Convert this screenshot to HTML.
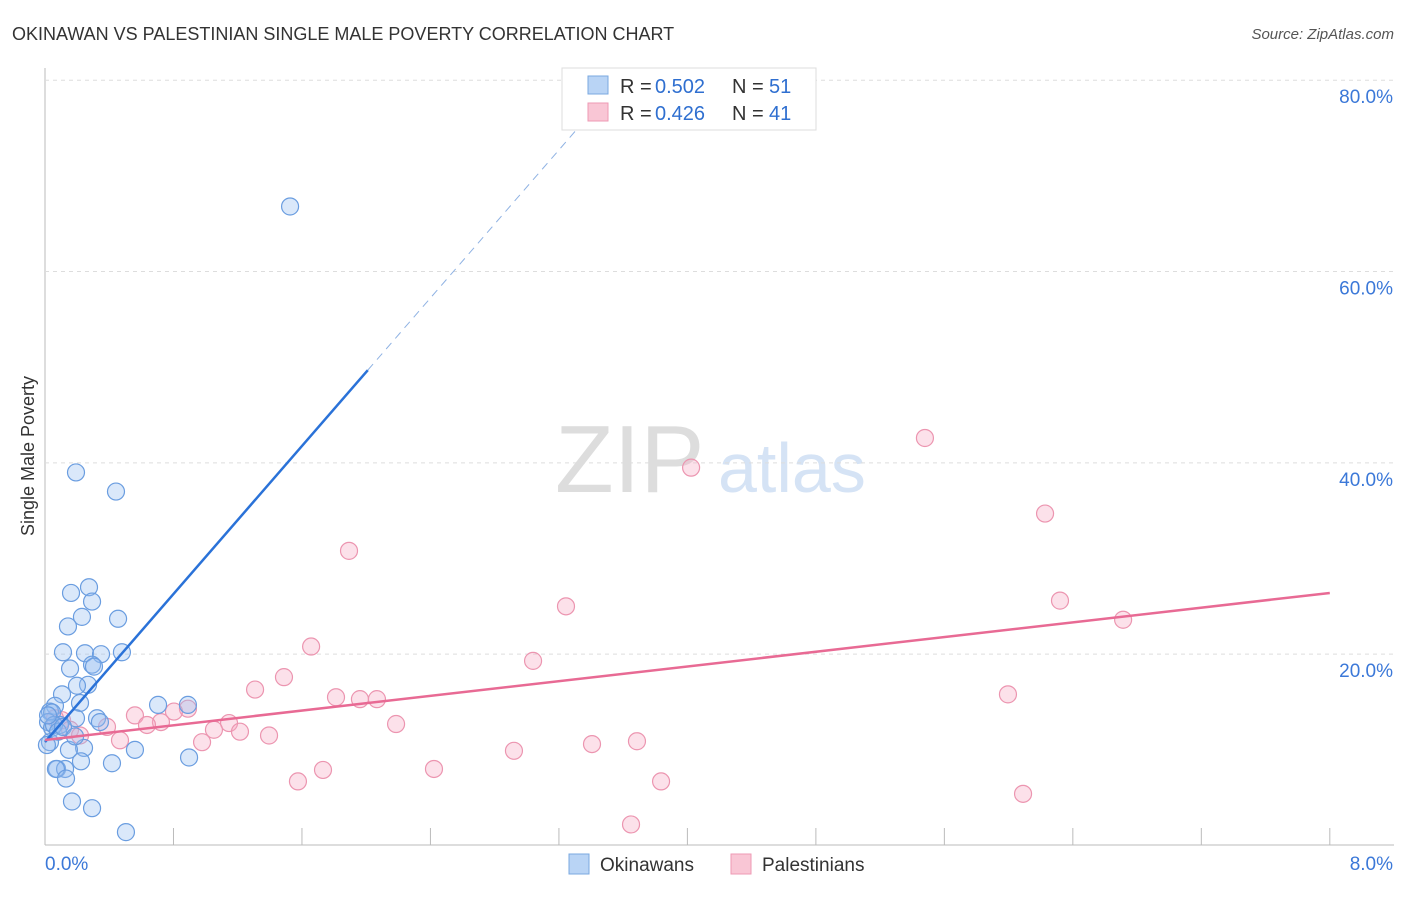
<!DOCTYPE html>
<html><head><meta charset="utf-8"><style>
body{margin:0;background:#fff;font-family:"Liberation Sans",sans-serif;}
svg text{font-family:"Liberation Sans",sans-serif;}
</style></head><body>
<svg id="c" width="1406" height="892" xmlns="http://www.w3.org/2000/svg">
<text x="12" y="40" font-size="18" fill="#333">OKINAWAN VS PALESTINIAN SINGLE MALE POVERTY CORRELATION CHART</text>
<text x="1394" y="39" font-size="15" fill="#555" font-style="italic" text-anchor="end">Source: ZipAtlas.com</text>
<text x="34" y="456" font-size="18" fill="#333" text-anchor="middle" transform="rotate(-90 34 456)">Single Male Poverty</text>
<text x="555" y="492" font-size="96" fill="#ddd" font-family="Liberation Serif">ZIP</text>
<text x="718" y="492" font-size="70" fill="#d5e3f5">atlas</text>
<g id="grid"></g><g id="pts"></g><g id="lines"></g>
<g>
<rect x="562" y="68" width="254" height="62" fill="#fff" stroke="#ddd"/>
<rect x="588" y="76" width="20" height="18" fill="#b9d4f5" stroke="#7aa8e0"/>
<rect x="588" y="103" width="20" height="18" fill="#f9c6d5" stroke="#ee9ab4"/>
<text x="620" y="93" font-size="20" fill="#333">R = </text><text x="655" y="93" font-size="20" fill="#2f6fd0">0.502</text>
<text x="732" y="93" font-size="20" fill="#333">N = </text><text x="769" y="93" font-size="20" fill="#2f6fd0">51</text>
<text x="620" y="120" font-size="20" fill="#333">R = </text><text x="655" y="120" font-size="20" fill="#2f6fd0">0.426</text>
<text x="732" y="120" font-size="20" fill="#333">N = </text><text x="769" y="120" font-size="20" fill="#2f6fd0">41</text>
</g>
<g>
<rect x="569" y="854" width="20" height="20" fill="#b9d4f5" stroke="#7aa8e0"/>
<text x="600" y="871" font-size="19" fill="#333">Okinawans</text>
<rect x="731" y="854" width="20" height="20" fill="#f9c6d5" stroke="#ee9ab4"/>
<text x="762" y="871" font-size="19" fill="#333">Palestinians</text>
</g>
</svg>
<script>
const xTicks=[0,0.8,1.6,2.4,3.2,4,4.8,5.6,6.4,7.2,8];
const yTicks=[20,40,60,80];
const blueX=[1.526,0.193,0.442,0.274,0.162,0.293,0.230,0.455,0.143,0.112,0.249,0.349,0.479,0.156,0.293,0.305,0.268,0.199,0.218,0.106,0.062,0.031,0.704,0.890,0.324,0.193,0.342,0.044,0.019,0.093,0.044,0.243,0.149,0.560,0.031,0.075,0.224,0.417,0.897,0.125,0.068,0.131,0.168,0.293,0.504,0.012,0.056,0.081,0.112,0.187,0.019];
const blueY=[66.8,39.0,37.0,27.0,26.4,25.5,23.9,23.7,22.9,20.2,20.1,20.0,20.2,18.5,18.9,18.7,16.8,16.7,14.9,15.8,14.6,14.0,14.7,14.7,13.3,13.3,12.9,13.9,12.9,12.6,12.3,10.2,10.0,10.0,10.8,8.0,8.8,8.6,9.2,8.0,8.0,7.0,4.6,3.9,1.4,10.5,12.6,11.9,12.4,11.4,13.6];
const pinkX=[5.479,4.023,6.227,1.893,3.244,6.320,6.713,1.657,3.039,1.488,1.308,1.812,1.961,2.067,5.996,0.890,0.803,0.560,0.722,0.635,1.146,1.052,1.214,2.186,0.386,1.395,0.467,0.978,3.686,3.406,2.920,1.731,2.422,1.575,3.836,6.090,3.649,0.106,0.156,0.062,0.218];
const pinkY=[42.6,39.5,34.7,30.8,25.0,25.6,23.6,20.8,19.3,17.6,16.3,15.5,15.3,15.3,15.8,14.3,14.0,13.6,12.9,12.6,12.8,12.1,11.9,12.7,12.4,11.5,11.0,10.8,10.9,10.6,9.9,7.9,8.0,6.7,6.7,5.4,2.2,13.1,12.1,13.3,11.5];
const blueTrend=[10.82,19.34]; // intercept, slope
const pinkTrend=[11.03,26.4];  // y at x=0, y at x=8
const X=v=>45+v*160.6, Y=v=>845.5-v*9.566;
const NS='http://www.w3.org/2000/svg';
function mk(t,a,p){const e=document.createElementNS(NS,t);for(const k in a)e.setAttribute(k,a[k]);p.appendChild(e);return e;}
const g=document.getElementById('grid');
let e=mk('line',{x1:45,y1:68,x2:45,y2:845,stroke:'#bbb'},g);


e=mk('line',{x1:45,y1:845,x2:1394,y2:845,stroke:'#bbb'},g);


yTicks.forEach(v=>{
 e=mk('line',{x1:45,y1:Y(v),x2:1394,y2:Y(v),stroke:'#ddd','stroke-dasharray':'4,4'},g);
 
 
 e=mk('text',{x:1393,y:Y(v)+23,'font-size':19,fill:'#3b78d8','text-anchor':'end'},g);e.textContent=v.toFixed(1)+'%';
 
 
});
xTicks.forEach(v=>{
 e=mk('line',{x1:X(v),y1:828,x2:X(v),y2:845,stroke:'#bbb'},g);
 
 
});
e=mk('text',{x:45,y:870,'font-size':19,fill:'#3b78d8'},g);e.textContent='0.0%';


e=mk('text',{x:1393,y:870,'font-size':19,fill:'#3b78d8','text-anchor':'end'},g);e.textContent='8.0%';


const p=document.getElementById('pts');
pinkX.forEach((x,i)=>{e=mk('circle',{cx:X(x),cy:Y(pinkY[i]),r:8.5,fill:'rgba(245,170,195,0.35)',stroke:'#ec95b0','stroke-width':1.2},p);
 
 });
blueX.forEach((x,i)=>{e=mk('circle',{cx:X(x),cy:Y(blueY[i]),r:8.5,fill:'rgba(150,190,240,0.35)',stroke:'#6a9de0','stroke-width':1.2},p);
 
 });
const l=document.getElementById('lines');
const bY=x=>blueTrend[0]+blueTrend[1]*x;
e=mk('line',{x1:X(0),y1:Y(bY(0)),x2:X(2.01),y2:Y(bY(2.01)),stroke:'#2a72d8','stroke-width':2.5},l);


const xe=(81.5-blueTrend[0])/blueTrend[1];
e=mk('line',{x1:X(2.01),y1:Y(bY(2.01)),x2:X(xe),y2:Y(bY(xe)),stroke:'#8fb2e3','stroke-width':1,'stroke-dasharray':'8,6'},l);


e=mk('line',{x1:X(0),y1:Y(pinkTrend[0]),x2:X(8),y2:Y(pinkTrend[1]),stroke:'#e86a94','stroke-width':2.5},l);


</script>
</body></html>
